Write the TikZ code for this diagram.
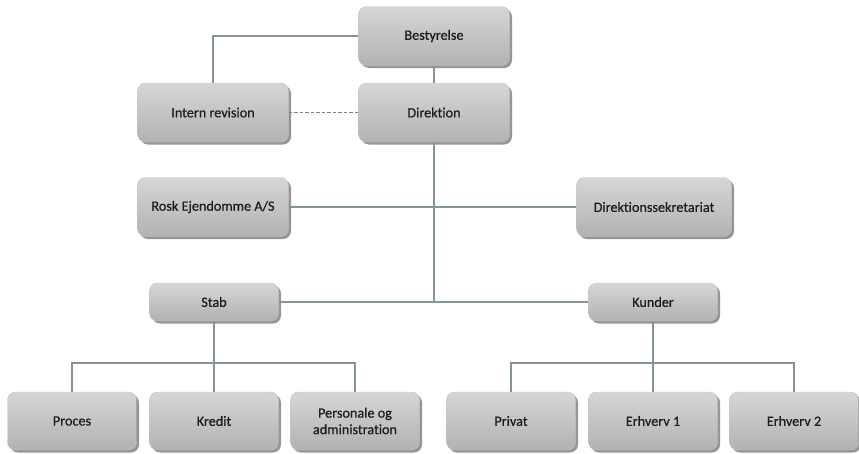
\documentclass[tikz,border=0pt]{standalone}
\usepackage{fontspec}
\setmainfont{Carlito}[Ligatures=NoCommon, FakeBold=0.7]
\usetikzlibrary{shadows}
\definecolor{boxtop}{HTML}{D6D6D6}
\definecolor{boxbot}{HTML}{B2B2B2}
\definecolor{boxedge}{HTML}{C4C4C4}
\definecolor{linec}{HTML}{85939A}
\definecolor{txt}{HTML}{1E1E1E}
\begin{document}
\begin{tikzpicture}[x=1pt,y=-1pt,
  box/.style={rounded corners=8pt, inner sep=0pt, align=center,
    top color=boxtop, bottom color=boxbot, draw=boxedge, line width=0.4pt,
    drop shadow={shadow xshift=2.5pt, shadow yshift=-2.5pt, fill=black!75, opacity=0.55},
    font=\fontsize{14.2}{16.5}\selectfont, text=txt},
  bigbox/.style={box, minimum width=151pt, minimum height=59pt},
  midbox/.style={box, minimum width=129pt, minimum height=38pt},
  lowbox/.style={box, minimum width=129pt, minimum height=58pt},
  conn/.style={draw=linec, line width=1.1pt},
  dconn/.style={draw=linec!90!black, line width=1.2pt, dash pattern=on 3.5pt off 2pt}]
\useasboundingbox (0,0) rectangle (859,453);
\node[bigbox] (bes) at (434,36) {Bestyrelse};
\node[bigbox] (dir) at (434,112.5) {Direktion};
\node[bigbox] (int) at (213,112.5) {Intern revision};
\node[bigbox] (rosk) at (213,207) {Rosk Ejendomme A/S};
\node[bigbox, minimum width=155pt] (sek) at (654,207) {Direktionssekretariat};
\node[midbox] (stab) at (214,302) {Stab};
\node[midbox] (kun) at (653,302) {Kunder};
\node[lowbox] (proc) at (72,421) {Proces};
\node[lowbox] (kred) at (214,421) {Kredit};
\node[lowbox] (pers) at (355,421) {Personale og\\administration};
\node[lowbox] (priv) at (511,421) {Privat};
\node[lowbox] (erh1) at (653,421) {Erhverv 1};
\node[lowbox] (erh2) at (794,421) {Erhverv 2};
\coordinate (sb) at (214,363);
\coordinate (kb) at (653,363);
\draw[conn] (bes.west) -| (int.north);
\draw[conn] (bes.south) -- (dir.north);
\draw[dconn] (int.east) -- (dir.west);
\draw[conn] (dir.south) -- (dir.south |- stab.east);
\draw[conn] (rosk.east) -- (sek.west);
\draw[conn] (stab.east) -- (kun.west);
\draw[conn] (stab.south) -- (kred.north);
\draw[conn] (proc.north) |- (sb) -| (pers.north);
\draw[conn] (kun.south) -- (erh1.north);
\draw[conn] (priv.north) |- (kb) -| (erh2.north);
\end{tikzpicture}
\end{document}
